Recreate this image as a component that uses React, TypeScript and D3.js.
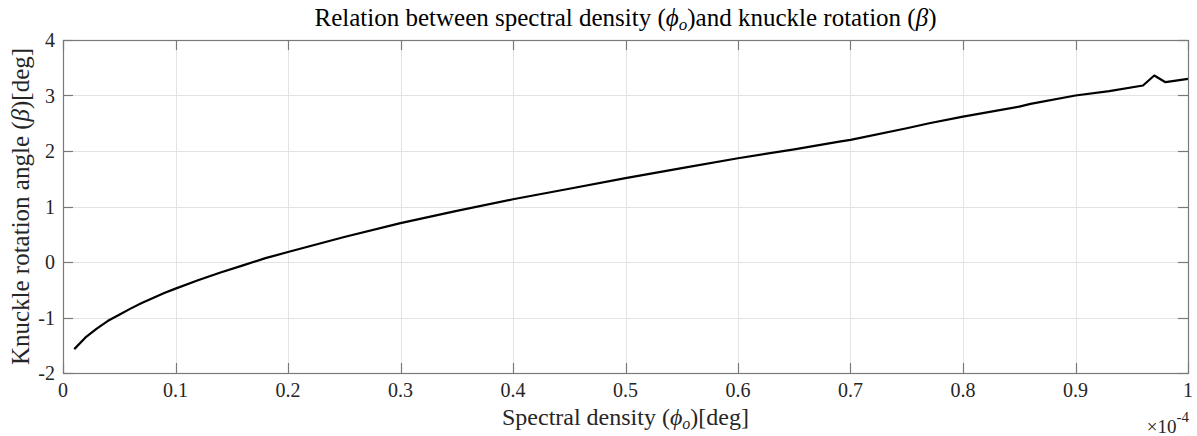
import React, { useEffect, useRef } from 'react';
import * as d3 from 'd3';

// spectral density (x 1e-4) and knuckle rotation angle [deg]
const density = [
  0.01, 0.02, 0.03, 0.04, 0.05, 0.06, 0.07, 0.08, 0.09, 0.1,
  0.12, 0.14, 0.16, 0.18, 0.2, 0.25, 0.3, 0.35, 0.4, 0.45,
  0.5, 0.55, 0.6, 0.65, 0.69, 0.7, 0.75, 0.77, 0.8, 0.85,
  0.86, 0.9, 0.93, 0.96, 0.97, 0.98, 1.0,
];
const rotation = [
  -1.57, -1.36, -1.2, -1.06, -0.95, -0.84, -0.74, -0.65, -0.56, -0.48,
  -0.33, -0.19, -0.06, 0.07, 0.18, 0.45, 0.7, 0.92, 1.13, 1.32,
  1.51, 1.69, 1.87, 2.03, 2.17, 2.2, 2.41, 2.5, 2.62, 2.8,
  2.85, 3.0, 3.08, 3.18, 3.36, 3.24, 3.3,
];
const xTicks = [0, 0.1, 0.2, 0.3, 0.4, 0.5, 0.6, 0.7, 0.8, 0.9, 1];
const yTicks = [-2, -1, 0, 1, 2, 3, 4];

const W = 1197;
const H = 436;
const margin = { left: 63, right: 9, top: 40, bottom: 63 };
const serif = '"Liberation Serif", "Times New Roman", serif';

const App = () => {
  const ref = useRef(null);

  useEffect(() => {
    const svg = d3.select(ref.current);
    svg.selectAll('*').remove();

    const x = d3.scaleLinear().domain([0, 1]).range([margin.left, W - margin.right]);
    const y = d3.scaleLinear().domain([-2, 4]).range([H - margin.bottom, margin.top]);
    const [x0, x1] = x.range();
    const [y0, y1] = y.range();

    svg.append('rect').attr('x', 0).attr('y', 0).attr('width', W).attr('height', H).attr('fill', '#fff');

    // grid
    const grid = svg.append('g').attr('stroke', '#e3e3e3').attr('stroke-width', 1);
    grid.selectAll('line.gx').data(xTicks.slice(1, -1)).enter().append('line')
      .attr('x1', d => Math.round(x(d)) + 0.5).attr('x2', d => Math.round(x(d)) + 0.5)
      .attr('y1', y1).attr('y2', y0);
    grid.selectAll('line.gy').data(yTicks.slice(1, -1)).enter().append('line')
      .attr('y1', d => Math.round(y(d)) + 0.5).attr('y2', d => Math.round(y(d)) + 0.5)
      .attr('x1', x0).attr('x2', x1);

    // curve
    const line = d3.line<number>()
      .x((d, i) => x(density[i]))
      .y(d => y(d));
    svg.append('path')
      .datum(rotation)
      .attr('d', line)
      .attr('fill', 'none')
      .attr('stroke', '#000')
      .attr('stroke-width', 2.2)
      .attr('stroke-linejoin', 'round');

    // box and ticks
    const axisColor = '#7a7a7a';
    svg.append('rect')
      .attr('x', x0 + 0.5).attr('y', y1 + 0.5)
      .attr('width', x1 - x0).attr('height', y0 - y1)
      .attr('fill', 'none').attr('stroke', axisColor).attr('stroke-width', 1.2);

    const tl = 10;
    const ticks = svg.append('g').attr('stroke', axisColor).attr('stroke-width', 1.2);
    xTicks.forEach(t => {
      const px = Math.round(x(t)) + 0.5;
      ticks.append('line').attr('x1', px).attr('x2', px).attr('y1', y0).attr('y2', y0 - tl);
      ticks.append('line').attr('x1', px).attr('x2', px).attr('y1', y1).attr('y2', y1 + tl);
    });
    yTicks.forEach(t => {
      const py = Math.round(y(t)) + 0.5;
      ticks.append('line').attr('x1', x0).attr('x2', x0 + tl).attr('y1', py).attr('y2', py);
      ticks.append('line').attr('x1', x1).attr('x2', x1 - tl).attr('y1', py).attr('y2', py);
    });

    // tick labels
    svg.append('g').selectAll('text').data(xTicks).enter().append('text')
      .attr('x', d => x(d)).attr('y', y0 + 24)
      .attr('text-anchor', 'middle')
      .attr('font-family', serif).attr('font-size', 20).attr('fill', '#262626')
      .text(d => (d === 0 || d === 1 ? String(d) : d.toFixed(1)));
    svg.append('g').selectAll('text').data(yTicks).enter().append('text')
      .attr('x', x0 - 8).attr('y', d => y(d) + 7)
      .attr('text-anchor', 'end')
      .attr('font-family', serif).attr('font-size', 20).attr('fill', '#262626')
      .text(d => String(d));

    // exponent
    const ex = svg.append('text').attr('x', x1 + 1).attr('y', H - 3)
      .attr('text-anchor', 'end').attr('font-family', serif).attr('font-size', 19).attr('fill', '#262626');
    ex.append('tspan').text('\u00d710');
    ex.append('tspan').attr('dy', -11).attr('font-size', 15).text('-4');

    // x label
    const xl = svg.append('text').attr('x', (x0 + x1) / 2).attr('y', 425)
      .attr('text-anchor', 'middle').attr('font-family', serif).attr('font-size', 24).attr('fill', '#262626');
    xl.append('tspan').text('Spectral density (');
    xl.append('tspan').attr('font-style', 'italic').text('\u03d5');
    xl.append('tspan').attr('font-style', 'italic').attr('font-size', 16).attr('dy', 4).text('o');
    xl.append('tspan').attr('dy', -4).text(')[deg]');

    // y label
    const yl = svg.append('text')
      .attr('transform', `translate(29,${(y0 + y1) / 2}) rotate(-90)`)
      .attr('text-anchor', 'middle').attr('font-family', serif).attr('font-size', 25).attr('fill', '#262626');
    yl.append('tspan').text('Knuckle rotation angle (');
    yl.append('tspan').attr('font-style', 'italic').text('\u03b2');
    yl.append('tspan').text(')[deg]');

    // title
    const tt = svg.append('text').attr('x', (x0 + x1) / 2).attr('y', 26)
      .attr('text-anchor', 'middle').attr('font-family', serif).attr('font-size', 25).attr('fill', '#000');
    tt.append('tspan').text('Relation between spectral density (');
    tt.append('tspan').attr('font-style', 'italic').text('\u03d5');
    tt.append('tspan').attr('font-style', 'italic').attr('font-size', 17).attr('dy', 4).text('o');
    tt.append('tspan').attr('dy', -4).text(')and knuckle rotation (');
    tt.append('tspan').attr('font-style', 'italic').text('\u03b2');
    tt.append('tspan').text(')');
  }, []);

  return (
    <svg ref={ref} width={W} height={H} style={{ position: 'absolute', left: 0, top: 0, display: 'block' }} />
  );
};

export default App;
